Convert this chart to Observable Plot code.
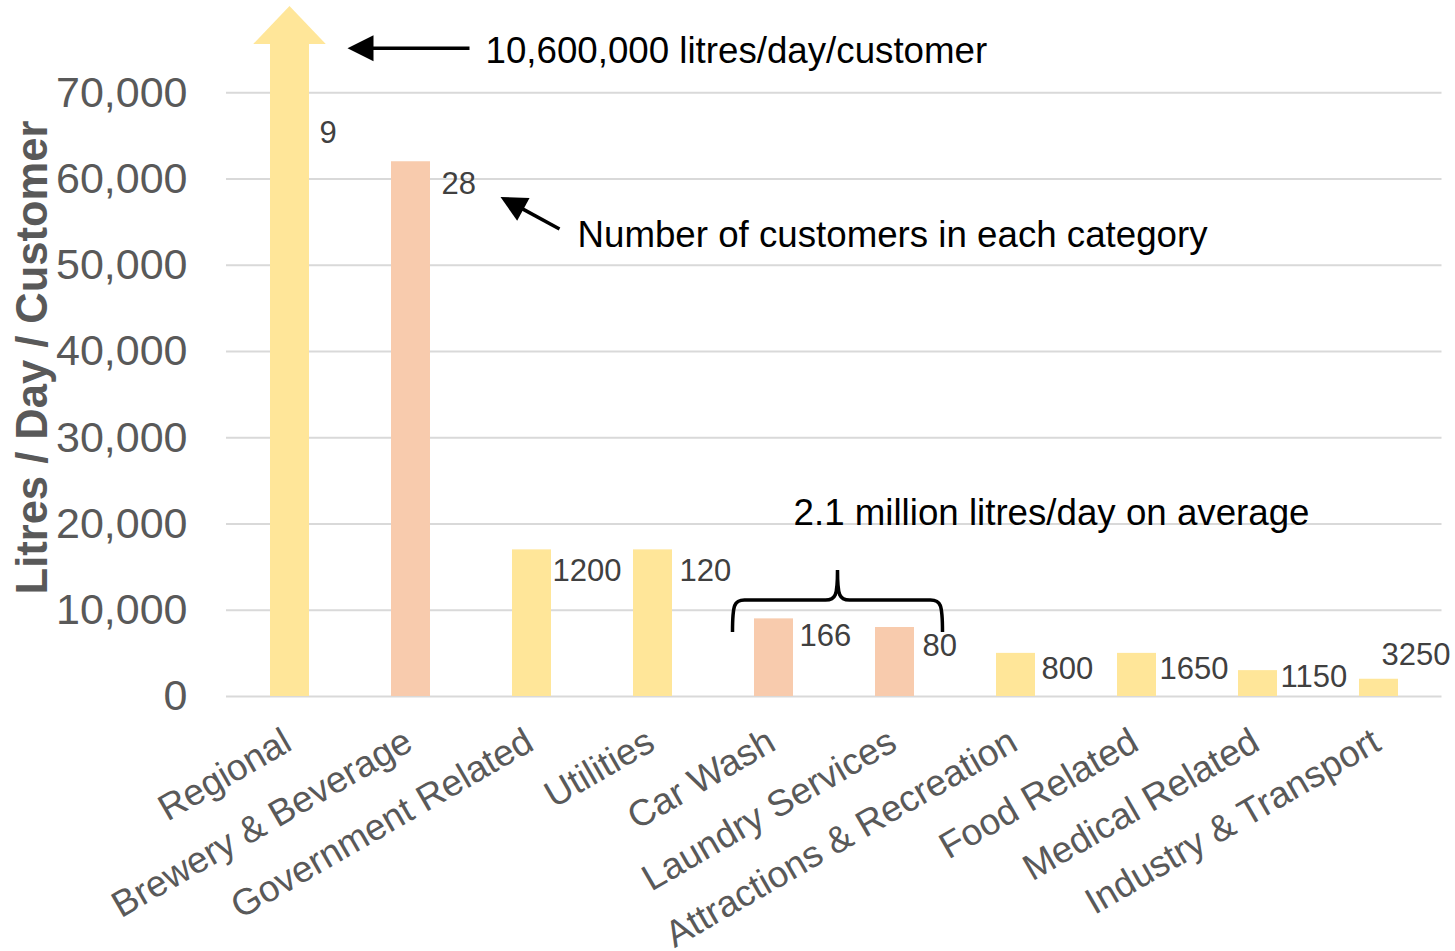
<!DOCTYPE html>
<html><head><meta charset="utf-8">
<script src="https://cdn.jsdelivr.net/npm/d3@7"></script>
<script src="https://cdn.jsdelivr.net/npm/@observablehq/plot@0.6"></script>
<style>html,body{margin:0;padding:0;background:#fff;}</style>
</head><body><div id="chart"></div>
<script>
// ---- data ----
const categories = ["Regional","Brewery & Beverage","Government Related","Utilities","Car Wash","Laundry Services","Attractions & Recreation","Food Related","Medical Related","Industry & Transport"];
const litresPerDayPerCustomer = [10600000, 62000, 17000, 17000, 9000, 8000, 5000, 5000, 3000, 2000];
const customerCounts = ["9","28","1200","120","166","80","800","1650","1150","3250"];
const highlighted = [false,true,false,false,true,true,false,false,false,false];
const yTicks = [0,10000,20000,30000,40000,50000,60000,70000];
const yMax = 80000;
const offChartCap = 75600; // the Regional bar is broken here and drawn as an arrow
const regionalNote = "10,600,000 litres/day/customer";
const countNote = "Number of customers in each category";
const averageNote = "2.1 million litres/day on average";
const averageGroup = ["Car Wash","Laundry Services"];

// ---- label nudges (pixels) ----
const labelNudgeX = [10, 11, 1, 7, 6, 8, 6, 3, 3, -17];
const labelNudgeY = [89, 22, 21, 21, 17, 19, 16, 16, 6, -24];

const YELLOW = "#FFE699", PEACH = "#F8CBAD", GRID = "#D9D9D9", AXIS_TEXT = "#595959";
const FONT = "'Liberation Sans', Arial, sans-serif";
const W = 1455, H = 951, ML = 226, MR = 13.5, MT = 6, MB = 255;
const PAD = 0.679;
const bw = (W - ML - MR) / categories.length * (1 - PAD);

const data = categories.map((c, i) => ({
  category: c, value: litresPerDayPerCustomer[i],
  shown: Math.min(litresPerDayPerCustomer[i], offChartCap),
  count: customerCounts[i], hi: highlighted[i]
}));

const chart = Plot.plot({
  width: W, height: H,
  marginLeft: ML, marginRight: MR, marginTop: MT, marginBottom: MB,
  style: {fontFamily: FONT, background: "#fff", overflow: "visible"},
  x: {domain: categories, paddingInner: PAD, paddingOuter: PAD / 2, axis: null},
  y: {domain: [0, yMax], axis: null},
  marks: [
    Plot.ruleY(yTicks, {stroke: GRID, strokeWidth: 2}),
    Plot.barY(data.filter(d => !d.hi), {x: "category", y: "shown", fill: YELLOW}),
    Plot.barY(data.filter(d => d.hi), {x: "category", y: "shown", fill: PEACH}),
    Plot.axisY({ticks: yTicks, tickSize: 0, tickPadding: 39, tickFormat: d3.format(","), fontSize: 43, color: AXIS_TEXT, label: null}),
    Plot.text(categories, {x: d => d, frameAnchor: "bottom", rotate: -30, textAnchor: "end", lineAnchor: "middle", dx: -2, dy: 42, fontSize: 37, fill: AXIS_TEXT}),
    Plot.text(["Litres / Day / Customer"], {frameAnchor: "left", rotate: -90, textAnchor: "middle", lineAnchor: "middle", dx: -193, dy: 6, fontSize: 43.5, fontWeight: "bold", fill: AXIS_TEXT}),
    ...data.map((d, i) => Plot.text([d], {x: "category", y: "shown", text: "count", textAnchor: "start", lineAnchor: "middle", dx: bw / 2 + labelNudgeX[i], dy: labelNudgeY[i], fontSize: 31, fill: "#404040"}))
  ]
});
document.getElementById("chart").appendChild(chart);

// ---- annotations anchored on the plot's scales ----
const xs = chart.scale("x"), ys = chart.scale("y");
const cx = c => xs.apply(c) + xs.bandwidth / 2;
const py = v => ys.apply(v);
const svg = d3.select(chart);
const g = svg.append("g");

// Regional arrowhead (bar goes off the chart)
{
  const c = cx("Regional"), half = xs.bandwidth * 0.93;
  g.append("path")
    .attr("d", `M${c - half},${py(offChartCap)}L${c + half},${py(offChartCap)}L${c},${py(yMax)}Z`)
    .attr("fill", YELLOW);
}

function arrow(x1, y1, x2, y2) {
  const len = Math.hypot(x2 - x1, y2 - y1), ux = (x2 - x1) / len, uy = (y2 - y1) / len;
  const hl = 26, hw = 13;
  const bx = x2 - ux * hl, by = y2 - uy * hl;
  g.append("line").attr("x1", x1).attr("y1", y1).attr("x2", bx + ux * 2).attr("y2", by + uy * 2)
    .attr("stroke", "#000").attr("stroke-width", 3.5);
  g.append("path")
    .attr("d", `M${x2},${y2}L${bx - uy * hw},${by + ux * hw}L${bx + uy * hw},${by - ux * hw}Z`)
    .attr("fill", "#000");
}
function note(text, x, y, anchor) {
  g.append("text").attr("x", x).attr("y", y).attr("dy", "0.35em")
    .attr("text-anchor", anchor || "start").attr("font-family", FONT).attr("font-size", 36.7)
    .attr("fill", "#000").text(text);
}

const b = cx("Brewery & Beverage");
arrow(b + 59, py(75100), b - 63, py(75100));
note(regionalNote, b + 75, py(74900));
arrow(b + 149, py(54150), b + 90, py(57860));
note(countNote, b + 167, py(53570));

// brace over the averaged group
{
  const xl = cx(averageGroup[0]) - 41, xr = cx(averageGroup[1]) + 48, xm = (xl + xr) / 2;
  const yb = py(7420), yh = py(11130), yt = py(14610);
  const r = 12;
  g.append("path")
    .attr("d", `M${xl},${yb}C${xl},${yh + 4} ${xl + 2},${yh} ${xl + r},${yh}L${xm - r},${yh}C${xm - 2},${yh} ${xm},${yh - 4} ${xm},${yt}` +
               `C${xm},${yh - 4} ${xm + 2},${yh} ${xm + r},${yh}L${xr - r},${yh}C${xr - 2},${yh} ${xr},${yh + 4} ${xr},${yb}`)
    .attr("fill", "none").attr("stroke", "#000").attr("stroke-width", 3.5);
  note(averageNote, cx("Attractions & Recreation") + 36, py(21330), "middle");
}
</script>
</body></html>
